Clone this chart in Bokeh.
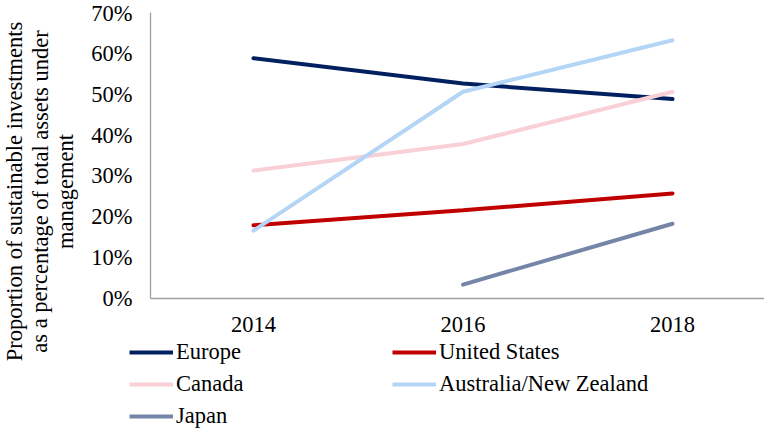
from bokeh.plotting import figure
from bokeh.layouts import row, column
from bokeh.models import (Range1d, FixedTicker, NumeralTickFormatter, Legend,
                          LegendItem, Label, ColumnDataSource)
from bokeh.embed import file_html
from bokeh.resources import INLINE

years = [2014, 2016, 2018]
series_names = ["Europe", "United States", "Canada", "Australia/New Zealand", "Japan"]
europe = [0.588, 0.526, 0.488]
united_states = [0.179, 0.216, 0.257]
canada = [0.313, 0.378, 0.506]
australia_nz = [0.166, 0.506, 0.632]
japan = [float("nan"), 0.034, 0.183]
series_values = [europe, united_states, canada, australia_nz, japan]
colors = ["#002060", "#C00000", "#F8D0D5", "#B4D5F6", "#7485A8"]
y_ticks = [0.0, 0.1, 0.2, 0.3, 0.4, 0.5, 0.6, 0.7]
x_ticks = [2014, 2016, 2018]
y_label_lines = ["Proportion of sustainable investments",
                 "as a percentage of total assets under",
                 "management"]

FONT = "Liberation Serif"
FS = "22.5px"


def bare(fig):
    fig.outline_line_color = None
    fig.background_fill_color = "white"
    fig.border_fill_color = "white"
    fig.frame_align = False
    return fig


# ---- main chart ----
p = bare(figure(width=678, height=338, output_backend="svg", toolbar_location=None,
                x_range=Range1d(2013.017, 2018.878), y_range=Range1d(0, 0.7),
                min_border_left=64, min_border_right=0, min_border_top=12,
                min_border_bottom=40))
p.xgrid.visible = False
p.ygrid.visible = False

for ax in (p.xaxis[0], p.yaxis[0]):
    ax.axis_line_color = "#A0A0A0"
    ax.axis_line_width = 1.3
    ax.major_tick_line_color = None
    ax.minor_tick_line_color = None
    ax.major_tick_out = 0
    ax.major_tick_in = 0
    ax.major_label_text_font = FONT
    ax.major_label_text_font_size = FS
    ax.major_label_text_color = "black"

p.xaxis[0].ticker = FixedTicker(ticks=x_ticks)
p.xaxis[0].major_label_standoff = 18
p.yaxis[0].ticker = FixedTicker(ticks=y_ticks)
p.yaxis[0].formatter = NumeralTickFormatter(format="0%")
p.yaxis[0].major_label_standoff = 18

for name, vals, col in zip(series_names, series_values, colors):
    src = ColumnDataSource(dict(x=years, y=vals))
    p.line("x", "y", source=src, line_color=col, line_width=4, line_cap="round")

# ---- legend strip (below the chart) ----
lf = bare(figure(width=678, height=91, output_backend="svg", toolbar_location=None,
                 x_range=Range1d(0, 1), y_range=Range1d(0, 1),
                 x_axis_type=None, y_axis_type=None, min_border=0))
lf.xgrid.visible = False
lf.ygrid.visible = False
items = []
for name, vals, col in zip(series_names, series_values, colors):
    src = ColumnDataSource(dict(x=years, y=vals))
    r = lf.line("x", "y", source=src, line_color=col, line_width=4)
    items.append(LegendItem(label=name, renderers=[r]))
legend = Legend(items=items, orientation="horizontal", ncols=2,
                location=(43, 0), glyph_width=44, glyph_height=26,
                label_height=26, label_width=210, label_standoff=3, spacing=6,
                padding=0, margin=0, border_line_color=None,
                background_fill_alpha=0, label_text_font=FONT,
                label_text_font_size=FS, label_text_color="black")
lf.add_layout(legend, "center")

# ---- y-axis title strip (left) ----
tf = bare(figure(width=86, height=429, output_backend="svg", toolbar_location=None,
                 x_range=Range1d(0, 1), y_range=Range1d(0, 1),
                 x_axis_type=None, y_axis_type=None, min_border=0))
tf.xgrid.visible = False
tf.ygrid.visible = False
for txt, xpos in zip(y_label_lines, [14, 39.5, 65]):
    tf.add_layout(Label(x=xpos, y=238, x_units="screen", y_units="screen",
                        text=txt, angle=1.5707963, angle_units="rad",
                        text_align="center", text_baseline="alphabetic",
                        text_font=FONT, text_font_size=FS, text_color="black"))

layout = row(tf, column(p, lf, spacing=0), spacing=0)
open("out.html", "w").write(file_html(layout, INLINE))
